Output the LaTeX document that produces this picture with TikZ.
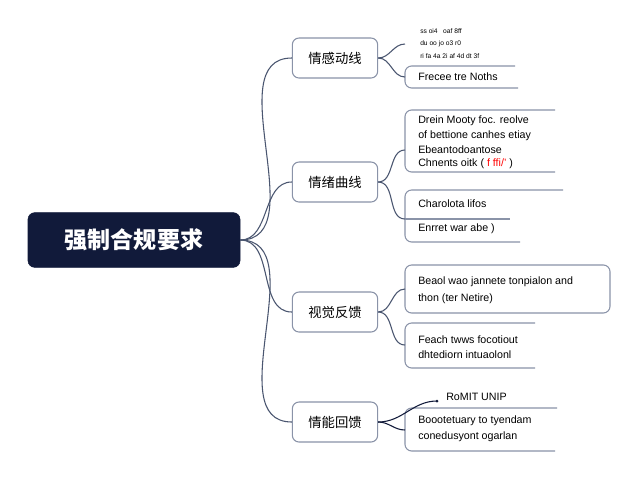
\documentclass[tikz,border=0pt]{standalone}
\usepackage{fontspec}
\setmainfont{Liberation Sans}
\newfontfamily\cjk{Noto Sans CJK SC}
\definecolor{navy}{HTML}{111A3A}
\definecolor{edge}{HTML}{4A5670}
\definecolor{boxline}{HTML}{8A93A8}
\tikzset{
  root/.style = {draw=navy, fill=navy, rounded corners=5pt, minimum width=159pt, minimum height=41pt, text=white, font=\cjk\bfseries\LARGE},
  branch/.style = {draw=boxline, thick, rounded corners=5pt, minimum width=64pt, minimum height=30pt, font=\cjk},
  link/.style = {draw=edge, thick},
  leaf/.style = {draw=boxline, thick, rounded corners=5pt},
  txt/.style = {anchor=west, font=\footnotesize, inner sep=0pt},
}
\begin{document}
\begin{tikzpicture}[x=0.75pt,y=-0.75pt]
  \useasboundingbox (0,0) rectangle (640,480);
  \fill[white] (0,0) rectangle (640,480);

  \node[root] (root) at (134,240) {强制合规要求};
  \node[branch] (b1) at (335,58) {情感动线};
  \node[branch] (b2) at (335,182) {情绪曲线};
  \node[branch] (b3) at (335,312) {视觉反馈};
  \node[branch] (b4) at (335,422) {情能回馈};

  \foreach \b in {b1,b2,b3,b4}
    \draw[link] (root.east) to[out=0,in=180] (\b.west);

  % leaves
  \draw[leaf] (515,66) -- (405,66) -- (405,88) -- (518,88);
  \draw[leaf] (555,110) -- (405,110) -- (405,172) -- (555,172);
  \draw[leaf] (563,190) -- (405,190) -- (405,242) -- (520,242);
  \draw[boxline, thick] (405,219) -- (510,219);
  \draw[leaf] (405,265) rectangle (610,313);
  \draw[leaf] (535,323) -- (405,323) -- (405,368) -- (535,368);
  \draw[leaf] (557,408) -- (405,408) -- (405,451) -- (555,451);

  \coordinate (l1a) at (405,44);
  \coordinate (l1b) at (405,77);
  \coordinate (l2a) at (405,150);
  \coordinate (l2b) at (405,219);
  \coordinate (l3a) at (405,289);
  \coordinate (l3b) at (405,345);
  \coordinate (l4a) at (437,401);
  \coordinate (l4b) at (405,430);

  \draw[link] (b1.east) to[out=0,in=180] (l1a);
  \draw[link] (b1.east) to[out=0,in=180] (l1b);
  \draw[link] (b2.east) to[out=0,in=180] (l2a);
  \draw[link] (b2.east) to[out=0,in=180] (l2b);
  \draw[link] (b3.east) to[out=0,in=180] (l3a);
  \draw[link] (b3.east) to[out=0,in=180] (l3b);
  \draw[link, navy] (b4.east) to[out=0,in=180] (l4a);
  \draw[link, navy] (b4.east) to[out=0,in=180] (l4b);
  \fill[navy] (l4a) circle (1.5);

  \node[txt, font=\tiny] (t1) at (420,31) {ss oi4 ~ oaf 8ff};
  \node[txt, font=\tiny] (t2) at (420,44) {du oo jo o3 r0};
  \node[txt, font=\tiny] (t3) at (420,56) {ri fa 4a 2i af 4d dt 3f};
  \node[txt] (t4) at (418,77) {Frecee tre Noths};
  \node[txt] (t5) at (418,121) {Drein Mooty foc. reolve};
  \node[txt] (t6) at (418,136) {of bettione canhes etiay};
  \node[txt] (t7) at (418,150) {Ebeantodoantose};
  \node[txt] (t8) at (418,164) {Chnents oitk ( \textcolor{red}{f ffi/'} )};
  \node[txt] (t9) at (418,204) {Charolota lifos};
  \node[txt] (t10) at (418,229) {Enrret war abe )};
  \node[txt] (t11) at (418,282) {Beaol wao jannete tonpialon and};
  \node[txt] (t12) at (418,299) {thon (ter Netire)};
  \node[txt] (t13) at (418,340) {Feach twws focotiout};
  \node[txt] (t14) at (418,355) {dhtediorn intuaolonl};
  \node[txt] (t15) at (446,397) {RoMIT UNIP};
  \node[txt] (t16) at (418,421) {Boootetuary to tyendam};
  \node[txt] (t17) at (418,437) {conedusyont ogarlan};
\end{tikzpicture}
\end{document}
